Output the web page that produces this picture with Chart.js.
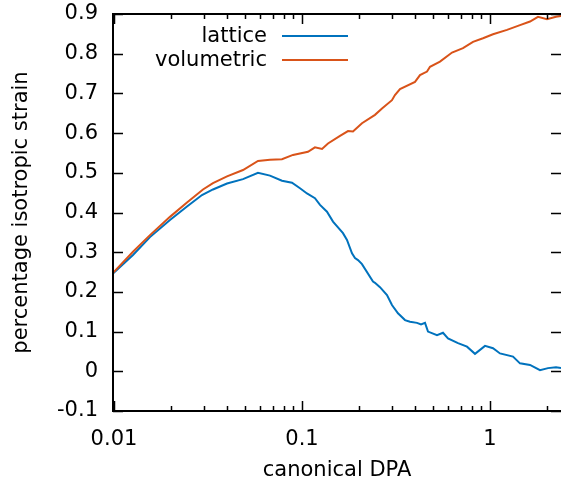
<!DOCTYPE html>
<html>
<head>
<meta charset="utf-8">
<script src="https://cdn.jsdelivr.net/npm/chart.js@4"></script>
<style>
    html, body { margin: 0; padding: 0; background: #fff; }
    #wrap { width: 561px; height: 479px; }
</style>
</head>
<body>
<div id="wrap"><canvas id="strainChart" width="561" height="479"></canvas></div>
<script>
// canonical DPA vs strain
const latticeDpa = [0.00988, 0.01262, 0.01554, 0.01985, 0.02445, 0.02938, 0.03362, 0.03992, 0.04856, 0.05834,
    0.06757, 0.07826, 0.08847, 0.09758, 0.1063, 0.1172, 0.1247, 0.1358, 0.1462, 0.1652,
    0.1735, 0.1845, 0.1914, 0.1986, 0.2085, 0.2386, 0.2445, 0.2599, 0.2832, 0.3010,
    0.3240, 0.3531, 0.3754, 0.4090, 0.4296, 0.4512, 0.4680, 0.5226, 0.5623, 0.5979,
    0.6757, 0.7545, 0.8322, 0.9406, 1.0375, 1.1302, 1.3255, 1.4440, 1.6324, 1.8450,
    2.0350, 2.2440, 2.386]
const latticeStrain = [0.246, 0.293, 0.338, 0.381, 0.415, 0.444, 0.458, 0.473, 0.484, 0.500,
    0.493, 0.480, 0.475, 0.461, 0.448, 0.436, 0.419, 0.402, 0.377, 0.348,
    0.331, 0.297, 0.285, 0.280, 0.270, 0.226, 0.223, 0.212, 0.192, 0.167,
    0.146, 0.129, 0.125, 0.122, 0.118, 0.122, 0.100, 0.091, 0.097, 0.083,
    0.071, 0.062, 0.044, 0.064, 0.058, 0.045, 0.037, 0.020, 0.016, 0.003,
    0.008, 0.010, 0.008]

const volumetricDpa = [0.00988, 0.01262, 0.01554, 0.01985, 0.02445, 0.02974, 0.03362, 0.03992, 0.04856, 0.05834,
    0.06757, 0.07826, 0.08956, 0.1076, 0.1172, 0.1278, 0.1375, 0.1593, 0.1757, 0.1867,
    0.2085, 0.2445, 0.2664, 0.3010, 0.3122, 0.3321, 0.3991, 0.4243, 0.4624, 0.4797,
    0.5420, 0.6281, 0.7184, 0.8121, 0.9180, 1.0375, 1.2312, 1.4440, 1.6324, 1.8000,
    2.0100, 2.2440, 2.386]
const volumetricStrain = [0.248, 0.301, 0.343, 0.389, 0.425, 0.458, 0.474, 0.491, 0.507, 0.530,
    0.533, 0.534, 0.545, 0.553, 0.564, 0.560, 0.574, 0.593, 0.605, 0.604,
    0.625, 0.646, 0.662, 0.683, 0.696, 0.711, 0.729, 0.746, 0.755, 0.767,
    0.780, 0.803, 0.814, 0.830, 0.839, 0.849, 0.860, 0.872, 0.881, 0.893,
    0.887, 0.893, 0.895]

const seriesNames = ['lattice', 'volumetric']
const seriesColors = ['#0072bd', '#d95319']

const xTickValues = [0.01, 0.1, 1]
const xTickLabels = ['0.01', '0.1', '1']
const xMinorValues = [0.02, 0.03, 0.04, 0.05, 0.06, 0.07, 0.08, 0.09,
    0.2, 0.3, 0.4, 0.5, 0.6, 0.7, 0.8, 0.9, 2]
const yTickValues = [-0.1, 0, 0.1, 0.2, 0.3, 0.4, 0.5, 0.6, 0.7, 0.8, 0.9]
const yTickLabels = ['-0.1', '0', '0.1', '0.2', '0.3', '0.4', '0.5', '0.6', '0.7', '0.8', '0.9']

const fontFamily = '"DejaVu Sans", sans-serif'
const labelFont = { family: fontFamily, size: 21 }

function toPoints(xs, ys) {
    return xs.map((x, i) => ({ x: x, y: ys[i] }))
}

// gnuplot style frame: border plus inward ticks on all sides
const framePlugin = {
    id: 'frame',
    afterDraw(chart) {
        const { ctx, chartArea: a, scales } = chart
        ctx.save()
        ctx.strokeStyle = '#000'
        ctx.lineWidth = 1.5
        ctx.beginPath()
        yTickValues.forEach(v => {
            const py = Math.round(scales.y.getPixelForValue(v)) + 0.5
            ctx.moveTo(a.left, py); ctx.lineTo(a.left + 10, py)
            ctx.moveTo(a.right, py); ctx.lineTo(a.right - 10, py)
        })
        xTickValues.forEach(v => {
            const px = Math.round(scales.x.getPixelForValue(v)) + 0.5
            ctx.moveTo(px, a.bottom); ctx.lineTo(px, a.bottom - 10)
            ctx.moveTo(px, a.top); ctx.lineTo(px, a.top + 10)
        })
        xMinorValues.forEach(v => {
            const px = Math.round(scales.x.getPixelForValue(v)) + 0.5
            ctx.moveTo(px, a.bottom); ctx.lineTo(px, a.bottom - 5)
            ctx.moveTo(px, a.top); ctx.lineTo(px, a.top + 5)
        })
        ctx.stroke()

        ctx.lineWidth = 2
        ctx.beginPath()
        ctx.moveTo(a.right + 2, a.top)
        ctx.lineTo(a.left, a.top)
        ctx.lineTo(a.left, a.bottom)
        ctx.lineTo(a.right + 2, a.bottom)
        ctx.stroke()

        // key, top left, text right aligned with the sample line after it
        ctx.font = `${labelFont.size}px ${fontFamily}`
        ctx.textAlign = 'right'
        ctx.textBaseline = 'middle'
        ctx.fillStyle = '#000'
        seriesNames.forEach((name, i) => {
            const y = 37 + i * 24
            ctx.fillText(name, 267, y)
            ctx.strokeStyle = seriesColors[i]
            ctx.lineWidth = 2
            ctx.beginPath()
            ctx.moveTo(282, y - 1)
            ctx.lineTo(348, y - 1)
            ctx.stroke()
        })
        ctx.restore()
    }
}

const ctx = document.getElementById('strainChart').getContext('2d')
const strainChart = new Chart(ctx, {
    type: 'line',
    data: {
        datasets: [
            {
                label: seriesNames[1],
                data: toPoints(volumetricDpa, volumetricStrain),
                borderColor: seriesColors[1],
                borderWidth: 2,
                pointRadius: 0,
                tension: 0
            },
            {
                label: seriesNames[0],
                data: toPoints(latticeDpa, latticeStrain),
                borderColor: seriesColors[0],
                borderWidth: 2,
                pointRadius: 0,
                tension: 0
            }
        ]
    },
    options: {
        responsive: false,
        animation: false,
        devicePixelRatio: 1,
        layout: { padding: { top: 14, right: 0, left: 0, bottom: 0 } },
        plugins: {
            legend: { display: false },
            tooltip: { enabled: false }
        },
        scales: {
            x: {
                type: 'logarithmic',
                min: 0.00988,
                max: 2.386,
                afterBuildTicks: axis => { axis.ticks = xTickValues.map(v => ({ value: v })) },
                afterFit: axis => {
                    axis.height = 68
                    axis.paddingLeft = 0
                    axis.paddingRight = 0
                },
                grid: { display: false, drawTicks: false },
                border: { display: false },
                ticks: {
                    autoSkip: false,
                    maxRotation: 0,
                    padding: 16,
                    color: '#000',
                    font: labelFont,
                    callback: (v, i) => xTickLabels[i]
                },
                title: {
                    display: true,
                    text: 'canonical DPA',
                    color: '#000',
                    font: { family: fontFamily, size: 21, lineHeight: 0.8 },
                    padding: { top: 0, bottom: 0 }
                }
            },
            y: {
                type: 'linear',
                min: -0.1,
                max: 0.9,
                afterBuildTicks: axis => { axis.ticks = yTickValues.map(v => ({ value: v })) },
                afterFit: axis => {
                    axis.width = 113
                    axis.paddingTop = 0
                    axis.paddingBottom = 0
                },
                grid: { display: false, drawTicks: false },
                border: { display: false },
                ticks: {
                    padding: 15,
                    color: '#000',
                    font: labelFont,
                    callback: (v, i) => yTickLabels[i]
                },
                title: {
                    display: true,
                    text: 'percentage isotropic strain',
                    color: '#000',
                    font: { family: fontFamily, size: 21, lineHeight: 1.2 },
                    padding: { top: 9, bottom: 0 }
                }
            }
        }
    },
    plugins: [framePlugin]
})
</script>
</body>
</html>
